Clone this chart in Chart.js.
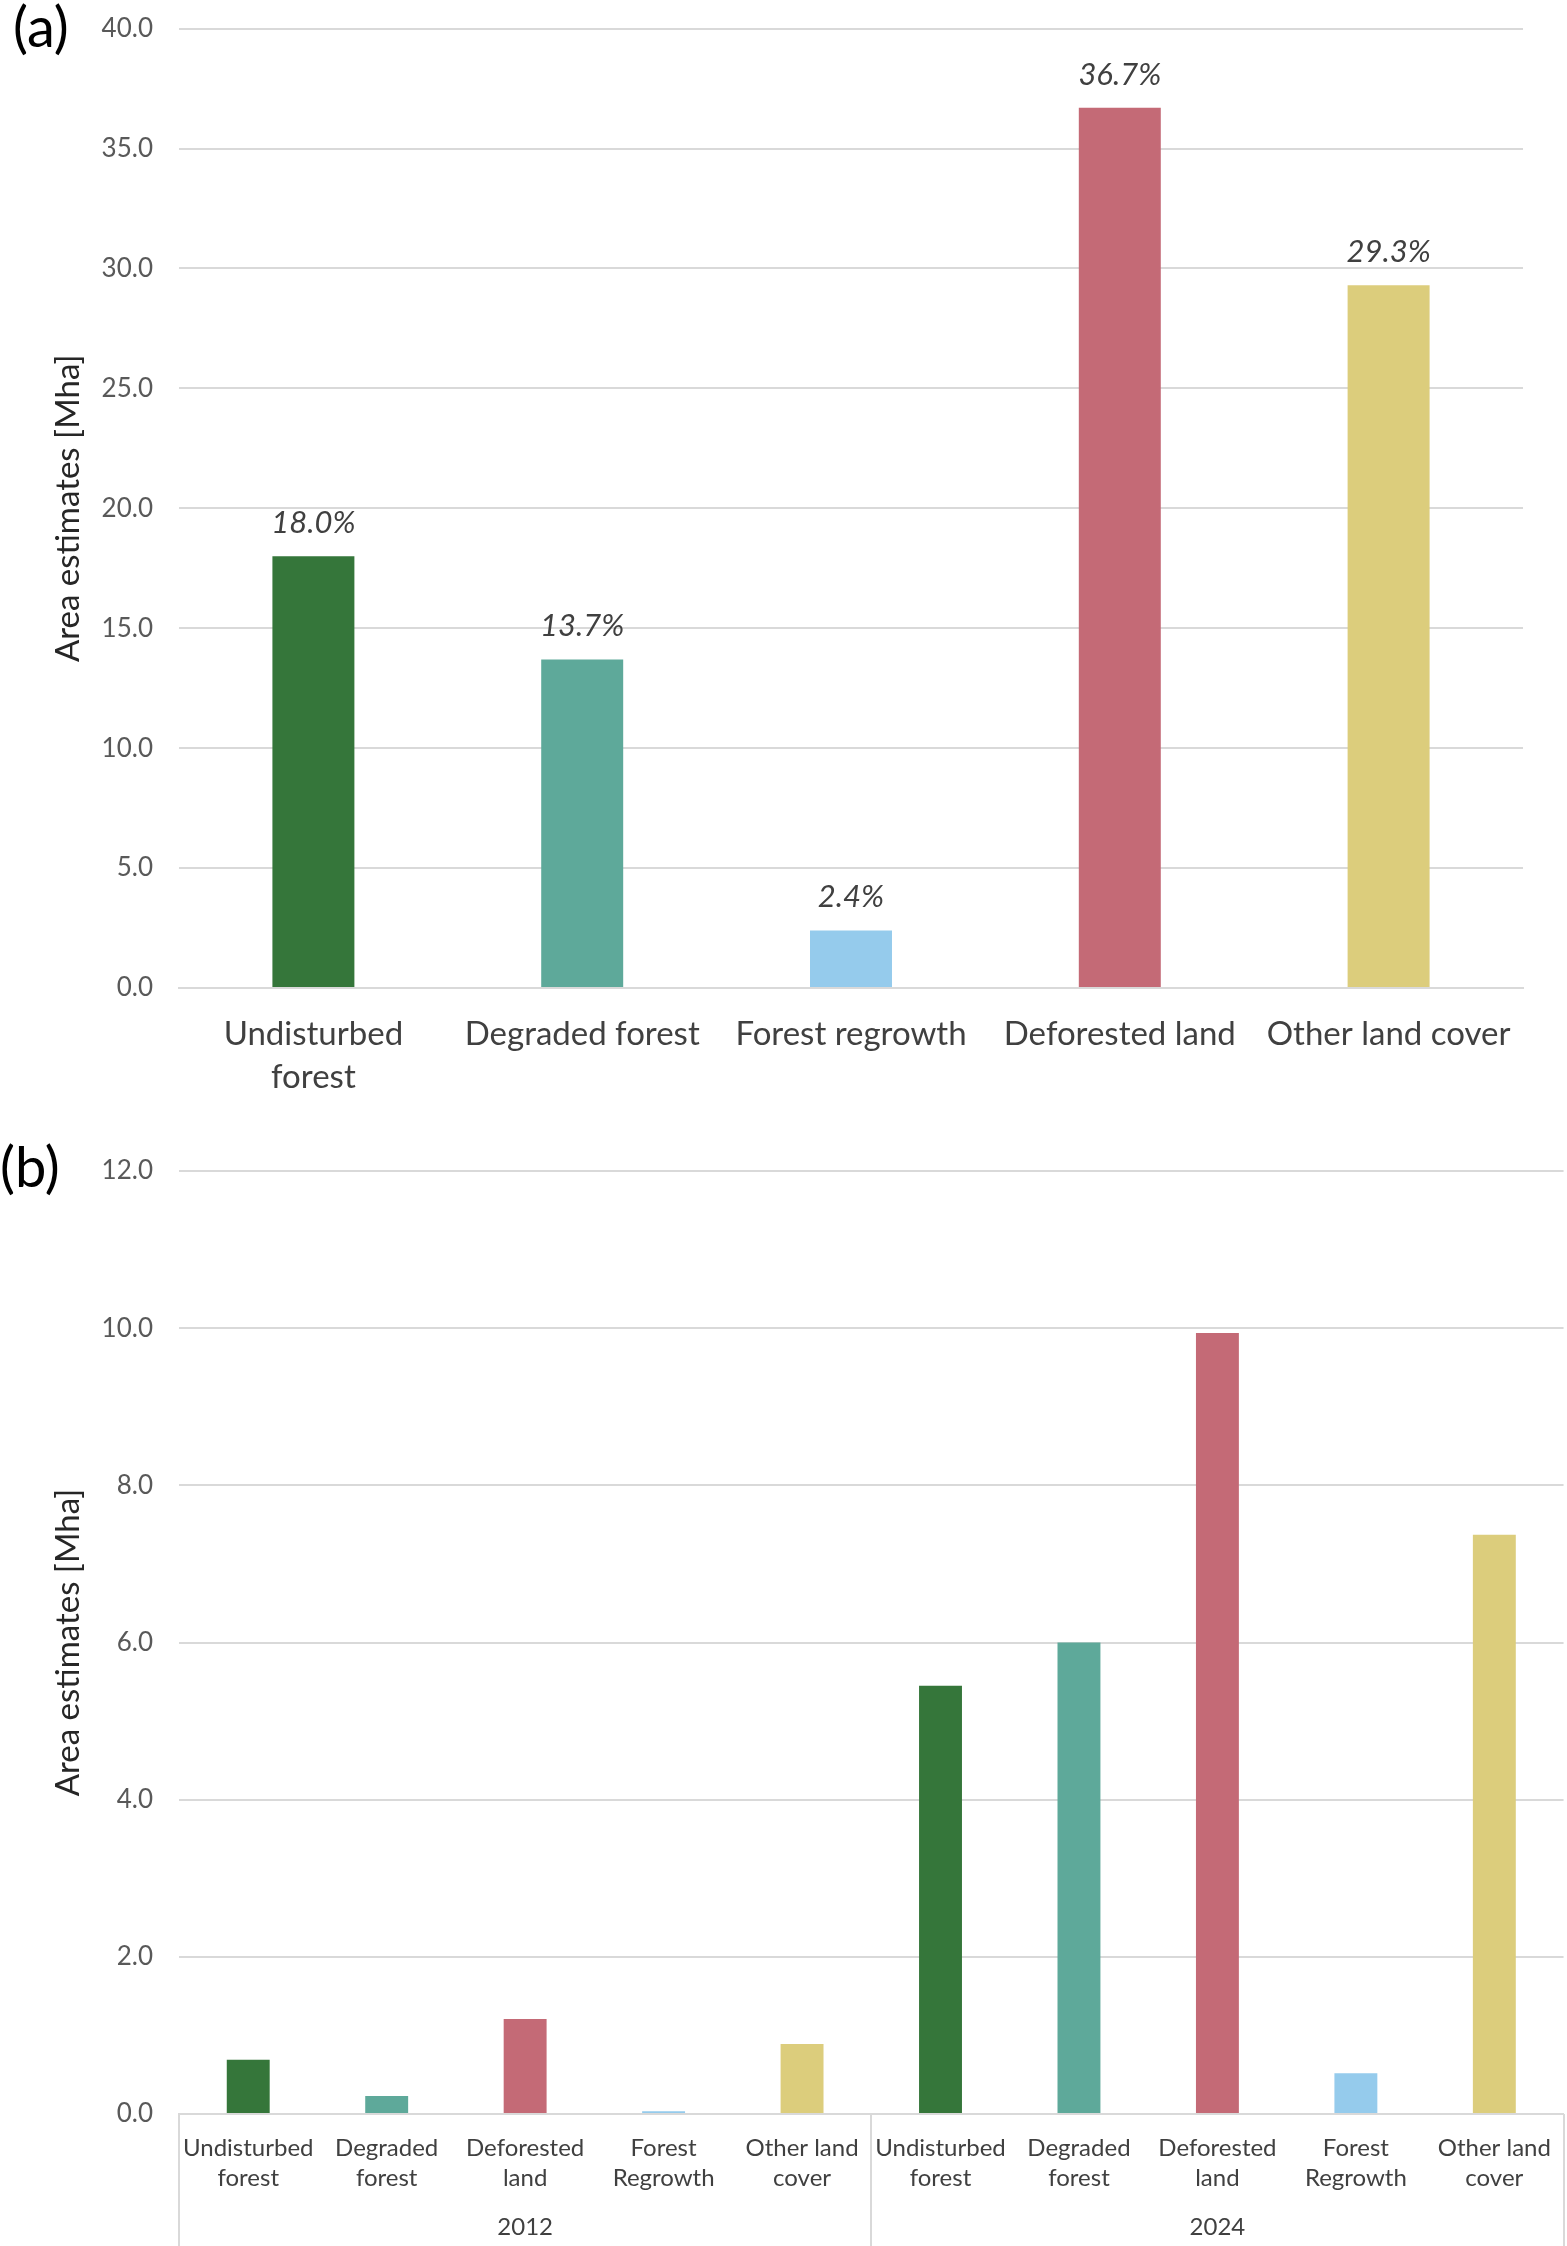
<!DOCTYPE html>
<html>
<head>
<meta charset="utf-8">
<script src="https://cdn.jsdelivr.net/npm/chart.js@4.4.1/dist/chart.umd.min.js"></script>
<style>
  html, body { margin: 0; padding: 0; background: #ffffff; }
  body { width: 1567px; height: 2246px; position: relative; overflow: hidden; font-family: Lato, "Open Sans", sans-serif; }
  .panel { position: absolute; left: 0; }
  .tag { position: absolute; font-family: Lato, "Open Sans", sans-serif; font-size: 56px; color: #000; line-height: 1; z-index: 2; }
</style>
</head>
<body>
<div class="tag" style="left:13px; top:-2px;">(a)</div>
<div class="tag" style="left:0px; top:1138px;">(b)</div>
<div class="panel" style="top:-13px; width:1567px; height:1133px;"><canvas id="chartA"></canvas></div>
<div class="panel" style="top:1120px; width:1570px; height:1126px;"><canvas id="chartB"></canvas></div>
<script>
// ---------- Data ----------
const categoriesA = [["Undisturbed", "forest"], "Degraded forest", "Forest regrowth", "Deforested land", "Other land cover"];
const valuesA = [18.0, 13.7, 2.4, 36.7, 29.3];
const shareLabelsA = ["18.0%", "13.7%", "2.4%", "36.7%", "29.3%"];
const colorsA = ["#35763a", "#5ea99a", "#95cbec", "#c46a76", "#dccd7c"];

const years = ["2012", "2024"];
const subCategoriesB = [["Undisturbed", "forest"], ["Degraded", "forest"], ["Deforested", "land"], ["Forest", "Regrowth"], ["Other land", "cover"]];
const values2012 = [0.69, 0.23, 1.21, 0.035, 0.89];
const values2024 = [5.45, 6.0, 9.94, 0.52, 7.37];
const colorsB = ["#35763a", "#5ea99a", "#c46a76", "#95cbec", "#dccd7c"];

const yTicksA = { min: 0, max: 40, step: 5 };
const yTicksB = { min: 0, max: 12, step: 2 };
const yTitle = "Area estimates [Mha]";

// ---------- Styling ----------
const FONT = "Lato, 'Open Sans', sans-serif";
const GRID = "#d9d9d9";
const TICK = "#595959";
Chart.defaults.font.family = FONT;
Chart.defaults.animation = false;

const barLabelPlugin = {
  id: "barLabels",
  afterDatasetsDraw(chart, args, opts) {
    if (!opts || !opts.labels) return;
    const ctx = chart.ctx;
    const meta = chart.getDatasetMeta(0);
    ctx.save();
    ctx.font = "italic 31px " + FONT;
    ctx.fillStyle = "#404040";
    ctx.textAlign = "center";
    ctx.textBaseline = "middle";
    meta.data.forEach((bar, i) => {
      ctx.fillText(opts.labels[i], bar.x, bar.y - 33);
    });
    ctx.restore();
  }
};

const groupLinesPlugin = {
  id: "groupLines",
  afterDraw(chart, args, opts) {
    if (!opts || !opts.groupSize) return;
    const xs = chart.scales.x;
    const n = chart.data.labels.length;
    const xsPos = [xs.left];
    for (let g = opts.groupSize; g < n; g += opts.groupSize) {
      xsPos.push((xs.getPixelForValue(g - 1) + xs.getPixelForValue(g)) / 2);
    }
    xsPos.push(xs.right);
    const ctx = chart.ctx;
    ctx.save();
    ctx.strokeStyle = GRID;
    ctx.lineWidth = 2;
    xsPos.forEach(x => {
      ctx.beginPath();
      ctx.moveTo(Math.round(x), xs.top);
      ctx.lineTo(Math.round(x), chart.height);
      ctx.stroke();
    });
    ctx.restore();
  }
};

// ---------- Chart (a) ----------
new Chart(document.getElementById("chartA"), {
  type: "bar",
  data: {
    labels: categoriesA,
    datasets: [{
      data: valuesA,
      backgroundColor: colorsA,
      barPercentage: 0.305,
      categoryPercentage: 1.0
    }]
  },
  options: {
    responsive: true,
    maintainAspectRatio: false,
    devicePixelRatio: 1,
    layout: { padding: { top: 16, right: 44, left: 0, bottom: 0 } },
    plugins: { legend: { display: false }, tooltip: { enabled: false }, barLabels: { labels: shareLabelsA } },
    scales: {
      x: {
        grid: { display: false, drawTicks: false },
        border: { display: true, color: GRID, width: 2 },
        ticks: { color: "#404040", font: { size: 33, lineHeight: 1.3 }, padding: 25, maxRotation: 0, autoSkip: false },
        afterFit(s) { s.height = 132; }
      },
      y: {
        min: yTicksA.min, max: yTicksA.max,
        grid: { color: GRID, lineWidth: 2, drawTicks: false },
        border: { display: false },
        ticks: { stepSize: yTicksA.step, color: TICK, font: { size: 26 }, padding: 26, callback: v => Number(v).toFixed(1) },
        title: { display: true, text: yTitle, color: "#262626", font: { size: 33 }, padding: { top: 49, bottom: 0 } },
        afterFit(s) { s.width = 179; }
      }
    }
  },
  plugins: [barLabelPlugin]
});

// ---------- Chart (b) ----------
const labelsB = years.flatMap(() => subCategoriesB);
const valuesB = values2012.concat(values2024);
const barColorsB = years.flatMap(() => colorsB);

new Chart(document.getElementById("chartB"), {
  type: "bar",
  data: {
    labels: labelsB,
    datasets: [{
      data: valuesB,
      backgroundColor: barColorsB,
      barPercentage: 0.31,
      categoryPercentage: 1.0,
      xAxisID: "x"
    }]
  },
  options: {
    responsive: true,
    maintainAspectRatio: false,
    devicePixelRatio: 1,
    layout: { padding: { top: 51, right: 2, left: 0, bottom: 0 } },
    plugins: { legend: { display: false }, tooltip: { enabled: false }, groupLines: { groupSize: subCategoriesB.length } },
    scales: {
      x: {
        position: "bottom",
        grid: { display: false, drawTicks: false },
        border: { display: true, color: GRID, width: 2 },
        ticks: { color: "#404040", font: { size: 24, lineHeight: 1.25 }, padding: 19, maxRotation: 0, autoSkip: false },
        afterFit(s) { s.height = 80; }
      },
      x2: {
        type: "category",
        position: "bottom",
        labels: years,
        offset: true,
        grid: { display: false, drawTicks: false },
        border: { display: false },
        ticks: { color: "#404040", font: { size: 24 }, padding: 19 },
        afterFit(s) { s.height = 52; }
      },
      y: {
        min: yTicksB.min, max: yTicksB.max,
        grid: { color: GRID, lineWidth: 2, drawTicks: false },
        border: { display: false },
        ticks: { stepSize: yTicksB.step, color: TICK, font: { size: 26 }, padding: 26, callback: v => Number(v).toFixed(1) },
        title: { display: true, text: yTitle, color: "#262626", font: { size: 33 }, padding: { top: 49, bottom: 0 } },
        afterFit(s) { s.width = 179; }
      }
    }
  },
  plugins: [groupLinesPlugin]
});
</script>
</body>
</html>
